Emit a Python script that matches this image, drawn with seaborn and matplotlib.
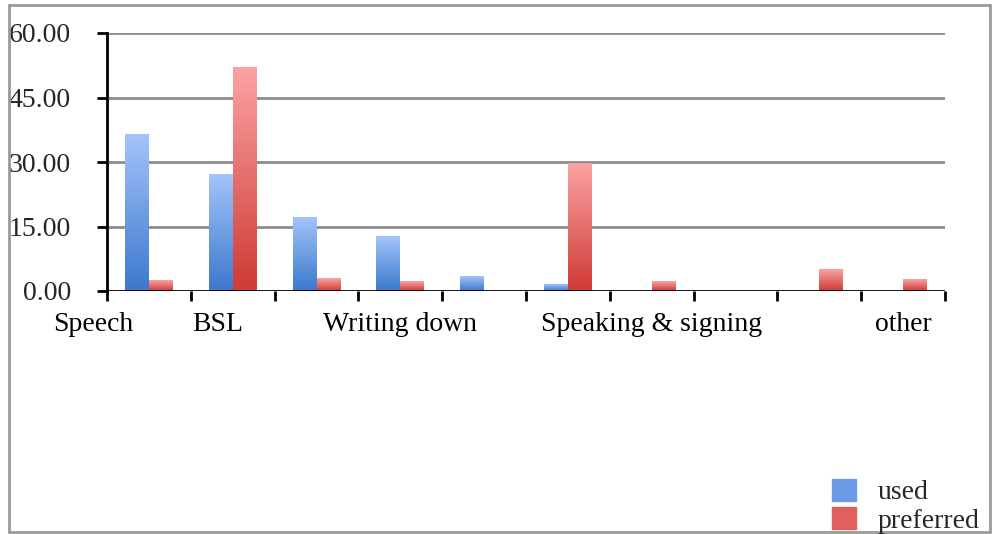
import numpy as np
import pandas as pd
import matplotlib.pyplot as plt
import matplotlib.patches as mpatches
from matplotlib.colors import LinearSegmentedColormap
import seaborn as sns

# chart data
categories = ["Speech", "BSL", "c3", "Writing down", "c5",
              "Speaking & signing", "c7", "c8", "c9", "other"]
used = [36.5, 27.0, 17.0, 12.6, 3.3, 1.5, 0.0, 0.0, 0.0, 0.0]
preferred = [2.4, 51.9, 3.0, 2.3, 0.0, 29.7, 2.1, 0.0, 4.9, 2.7]
series = ["used", "preferred"]
y_ticks = [0, 15, 30, 45, 60]
shown_labels = ["Speech", "BSL", "Writing down", "Speaking & signing", "other"]
label_pos = [-0.67, 0.82, 3.0, 6.0, 9.0]

df = pd.DataFrame({
    "category": categories * 2,
    "series": ["used"] * len(categories) + ["preferred"] * len(categories),
    "value": used + preferred,
})

sns.set_theme(style="white")
plt.rcParams['font.family'] = ['Liberation Serif', 'DejaVu Serif']

fig = plt.figure(figsize=(9.92, 5.34), dpi=100)
ax = fig.add_axes([107 / 992, 1 - 291 / 534, (945 - 107) / 992, (291 - 33) / 534])

sns.barplot(data=df, x="category", y="value", hue="series", order=categories,
            hue_order=series, width=0.57, ax=ax, legend=False,
            palette=["#6b9be6", "#e06060"], saturation=1, linewidth=0)

# gradient fill for the bars
grads = {
    "used": LinearSegmentedColormap.from_list("u", ["#3c78cc", "#a3c4fa"]),
    "preferred": LinearSegmentedColormap.from_list("p", ["#cf3a34", "#fba3a3"]),
}
grad_img = np.linspace(0, 1, 256).reshape(-1, 1)
n = len(categories)
for i, bar in enumerate(ax.patches[:2 * n]):
    name = series[i // n]
    x0, y0 = bar.get_x(), bar.get_y()
    w, h = bar.get_width(), bar.get_height()
    if h <= 0:
        continue
    bar.set_alpha(0)
    ax.imshow(grad_img, cmap=grads[name], origin="lower", aspect="auto",
              extent=[x0, x0 + w, y0, y0 + h], zorder=3)

# grid and axes
ax.set_yticks(y_ticks)
ax.set_yticklabels([f"{v:.2f}" for v in y_ticks], fontsize=20)
for v in y_ticks[1:]:
    ax.axhline(v, color="#8c8c8c", lw=2, zorder=1)
ax.axhline(0, color="black", lw=2, zorder=4)
for s in ["top", "right", "bottom"]:
    ax.spines[s].set_visible(False)
ax.spines["left"].set_color("black")
ax.spines["left"].set_linewidth(2)
ax.tick_params(axis="y", left=True, length=7, width=2, color="black", pad=19)

# category labels (some are hidden in the original, as in the source chart)
ax.set_xticks(np.arange(-0.5, n), minor=True)
ax.set_xticks([])
ax.tick_params(axis="x", which="minor", bottom=True, length=7, width=2,
               color="black", direction="out")
for lab, pos in zip(shown_labels, label_pos):
    ax.text(pos, -0.13, lab, transform=ax.get_xaxis_transform(), ha="center",
            va="center", fontsize=20, color="black", clip_on=False)
ax.set_xlabel("")
ax.set_ylabel("")
ax.set_xlim(-0.5, n - 0.5)
ax.set_ylim(0, 60)

# legend
handles = [mpatches.Patch(color="#6b9be6", label="used"),
           mpatches.Patch(color="#e06060", label="preferred")]
fig.legend(handles=handles, loc="lower right", bbox_to_anchor=(1.013, -0.046),
           frameon=False, fontsize=20, handlelength=0.85, handleheight=0.85,
           handletextpad=0.8, labelspacing=0.05)

# outer frame
fig.add_artist(mpatches.Rectangle((9 / 992, 2 / 534), 981 / 992, 527 / 534,
                                  transform=fig.transFigure, fill=False,
                                  edgecolor="#9a9a9a", lw=2))

fig.savefig("out.png", dpi=100)
